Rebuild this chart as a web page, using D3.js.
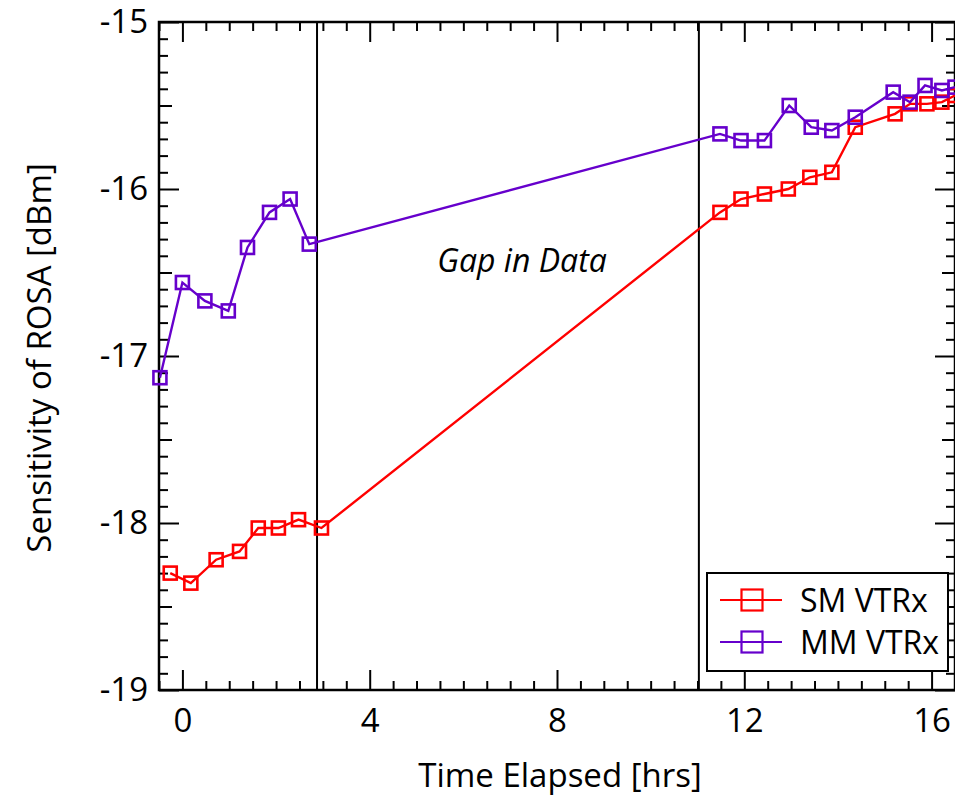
<!DOCTYPE html>
<html>
<head>
<meta charset="utf-8">
<script src="https://cdn.jsdelivr.net/npm/d3@7"></script>
<style>
  html, body { margin: 0; padding: 0; background: #fff; }
  svg { display: block; }
  text { font-family: "Open Sans", "Noto Sans", sans-serif; fill: #000; }
</style>
</head>
<body>
<script>
// ---- data ----
const smTime = [-0.26, 0.18, 0.72, 1.22, 1.62, 2.05, 2.48, 2.97,
                11.48, 11.93, 12.43, 12.94, 13.40, 13.87, 14.37, 15.22, 15.54, 15.90, 16.22, 16.50];
const smValue = [-18.30, -18.36, -18.22, -18.17, -18.03, -18.03, -17.98, -18.03,
                 -16.14, -16.06, -16.03, -16.00, -15.93, -15.90, -15.63, -15.55, -15.49, -15.49, -15.48, -15.44];
const mmTime = [-0.48, 0.00, 0.48, 0.98, 1.39, 1.86, 2.30, 2.71,
                11.48, 11.93, 12.43, 12.96, 13.43, 13.87, 14.37, 15.18, 15.54, 15.86, 16.22, 16.50];
const mmValue = [-17.13, -16.56, -16.67, -16.73, -16.35, -16.14, -16.06, -16.33,
                 -15.67, -15.71, -15.71, -15.50, -15.63, -15.65, -15.57, -15.42, -15.48, -15.38, -15.41, -15.39];
const gapLines = [2.875, 11.03];
const seriesNames = ["SM VTRx", "MM VTRx"];
const seriesColors = ["#ff0000", "#6600cc"];
const xMajorTicks = [0, 4, 8, 12, 16];
const yMajorTicks = [-15, -16, -17, -18, -19];
const xDomain = [-0.5, 16.5];
const yDomain = [-19, -15];

// ---- layout ----
const W = 955, H = 798;
const L = 159, R = 955, T = 22, B = 690;
const svg = d3.select("body").append("svg").attr("width", W).attr("height", H);

const x = d3.scaleLinear().domain(xDomain).range([L, R]);
const y = d3.scaleLinear().domain(yDomain).range([B, T]);

const xMinor = d3.range(-0.5, 16.51, 0.5).filter(v => !xMajorTicks.includes(v));
const yMinor = d3.range(-190, -149, 1).map(v => v / 10).filter(v => !yMajorTicks.includes(v) && Math.abs(v * 10) % 5 !== 0);
const yHalf = [-15.5, -16.5, -17.5, -18.5];

function styleAxis(g) {
  g.select(".domain").remove();
  g.selectAll(".tick line").attr("stroke", "#000").attr("stroke-width", 2);
  g.selectAll(".tick text").style("font-size", "33px").attr("fill", "#000")
    .style("font-family", '"Open Sans", "Noto Sans", sans-serif');
}
const fmt = d => String(d);

// bottom
svg.append("g").attr("transform", `translate(0,${B})`)
  .call(d3.axisBottom(x).tickValues(xMajorTicks).tickSize(-20).tickPadding(19).tickFormat(fmt)).call(styleAxis);
svg.append("g").attr("transform", `translate(0,${B})`)
  .call(d3.axisBottom(x).tickValues(xMinor).tickSize(-9).tickFormat("")).call(styleAxis);
// top
svg.append("g").attr("transform", `translate(0,${T})`)
  .call(d3.axisTop(x).tickValues(xMajorTicks).tickSize(-20).tickFormat("")).call(styleAxis);
svg.append("g").attr("transform", `translate(0,${T})`)
  .call(d3.axisTop(x).tickValues(xMinor).tickSize(-9).tickFormat("")).call(styleAxis);
// left
svg.append("g").attr("transform", `translate(${L},0)`)
  .call(d3.axisLeft(y).tickValues(yMajorTicks).tickSize(-20).tickPadding(11).tickFormat(fmt)).call(styleAxis);
svg.append("g").attr("transform", `translate(${L},0)`)
  .call(d3.axisLeft(y).tickValues(yHalf).tickSize(-13).tickFormat("")).call(styleAxis);
svg.append("g").attr("transform", `translate(${L},0)`)
  .call(d3.axisLeft(y).tickValues(yMinor).tickSize(-9).tickFormat("")).call(styleAxis);
// right
svg.append("g").attr("transform", `translate(${R},0)`)
  .call(d3.axisRight(y).tickValues(yMajorTicks).tickSize(-20).tickFormat("")).call(styleAxis);
svg.append("g").attr("transform", `translate(${R},0)`)
  .call(d3.axisRight(y).tickValues(yHalf).tickSize(-13).tickFormat("")).call(styleAxis);
svg.append("g").attr("transform", `translate(${R},0)`)
  .call(d3.axisRight(y).tickValues(yMinor).tickSize(-9).tickFormat("")).call(styleAxis);

// frame
svg.append("rect").attr("x", L).attr("y", T).attr("width", R - L).attr("height", B - T)
  .attr("fill", "none").attr("stroke", "#000").attr("stroke-width", 2.5);

// gap lines
svg.selectAll(".gap").data(gapLines).enter().append("line")
  .attr("x1", d => x(d)).attr("x2", d => x(d)).attr("y1", T).attr("y2", B)
  .attr("stroke", "#000").attr("stroke-width", 2);

svg.append("text").attr("x", 522).attr("y", 272).attr("text-anchor", "middle")
  .style("font-size", "32px").style("font-style", "italic").text("Gap in Data");

// series
const series = [
  { name: seriesNames[0], color: seriesColors[0], t: smTime, v: smValue },
  { name: seriesNames[1], color: seriesColors[1], t: mmTime, v: mmValue }
];
const line = d3.line().x(d => x(d[0])).y(d => y(d[1]));
const S = 13;
series.forEach(s => {
  const pts = s.t.map((t, i) => [t, s.v[i]]);
  svg.append("path").datum(pts).attr("d", line).attr("fill", "none")
    .attr("stroke", s.color).attr("stroke-width", 2.4);
  svg.append("g").selectAll("rect").data(pts).enter().append("rect")
    .attr("x", d => x(d[0]) - S / 2).attr("y", d => y(d[1]) - S / 2)
    .attr("width", S).attr("height", S).attr("fill", "none")
    .attr("stroke", s.color).attr("stroke-width", 2.6);
});

// legend
const lg = svg.append("g");
lg.append("rect").attr("x", 707).attr("y", 573).attr("width", 241).attr("height", 98)
  .attr("fill", "#fff").attr("stroke", "#000").attr("stroke-width", 2);
series.forEach((s, i) => {
  const yy = 600 + i * 42;
  lg.append("line").attr("x1", 720).attr("x2", 782).attr("y1", yy).attr("y2", yy)
    .attr("stroke", s.color).attr("stroke-width", 2.2);
  lg.append("rect").attr("x", 752 - 10.5).attr("y", yy - 10.5).attr("width", 21).attr("height", 21)
    .attr("fill", "none").attr("stroke", s.color).attr("stroke-width", 2.2);
  lg.append("text").attr("x", 800).attr("y", yy).attr("dy", "0.36em")
    .style("font-size", "32px").text(s.name);
});

// axis titles
svg.append("text").attr("x", 560).attr("y", 787).attr("text-anchor", "middle")
  .style("font-size", "33px").text("Time Elapsed [hrs]");
svg.append("text").attr("transform", "translate(51,358) rotate(-90)").attr("text-anchor", "middle")
  .style("font-size", "33px").text("Sensitivity of ROSA [dBm]");
</script>
</body>
</html>
